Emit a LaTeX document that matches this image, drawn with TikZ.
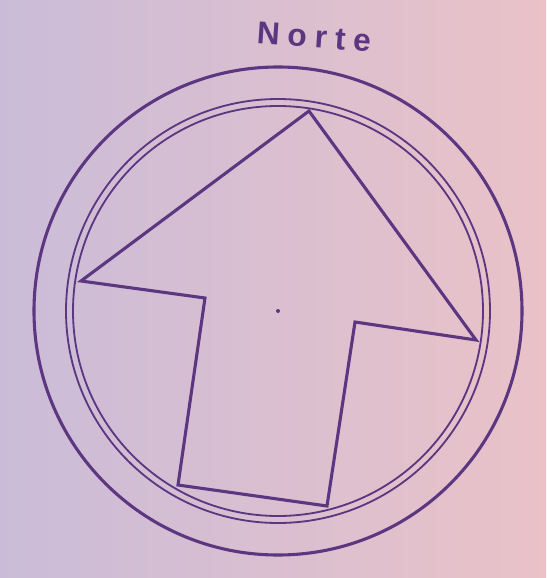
\documentclass[tikz,border=0pt]{standalone}
\usepackage{fontspec}
\setmainfont{Liberation Sans}
\newfontfamily\nortefont[LetterSpace=25]{Liberation Sans}
\definecolor{papelL}{RGB}{202,188,216}
\definecolor{papelR}{RGB}{234,194,200}
\definecolor{tinta}{RGB}{92,54,128}
\begin{document}
\begin{tikzpicture}[x=0.025cm,y=-0.025cm,
  aro/.style={draw=tinta, line width=2.2pt},
  aro2/.style={draw=tinta, line width=1.3pt},
  flecha/.style={draw=tinta, line width=2.2pt, line join=miter},
  rotulo/.style={text=tinta, font=\nortefont\fontsize{22.5}{26}\selectfont\bfseries, inner sep=0pt}]
  % fondo
  \shade[left color=papelL, right color=papelR] (0,0) rectangle (546,578);
  \useasboundingbox (0,0) rectangle (546,578);
  \coordinate (centro) at (278,311);
  % circulos
  \draw[aro] (centro) circle[radius=244];
  \draw[aro2] (centro) circle[radius=212];
  \draw[aro2] (centro) circle[radius=205];
  % flecha
  \draw[flecha] (309,111) -- (81,281) -- (205,298) -- (178,485)
    -- (327,506) -- (355,322) -- (476,340) -- cycle;
  \fill[tinta] (centro) circle[radius=2];
  \node[rotulo, rotate=-4] (norte) at (314,37) {Norte};
\end{tikzpicture}
\end{document}
